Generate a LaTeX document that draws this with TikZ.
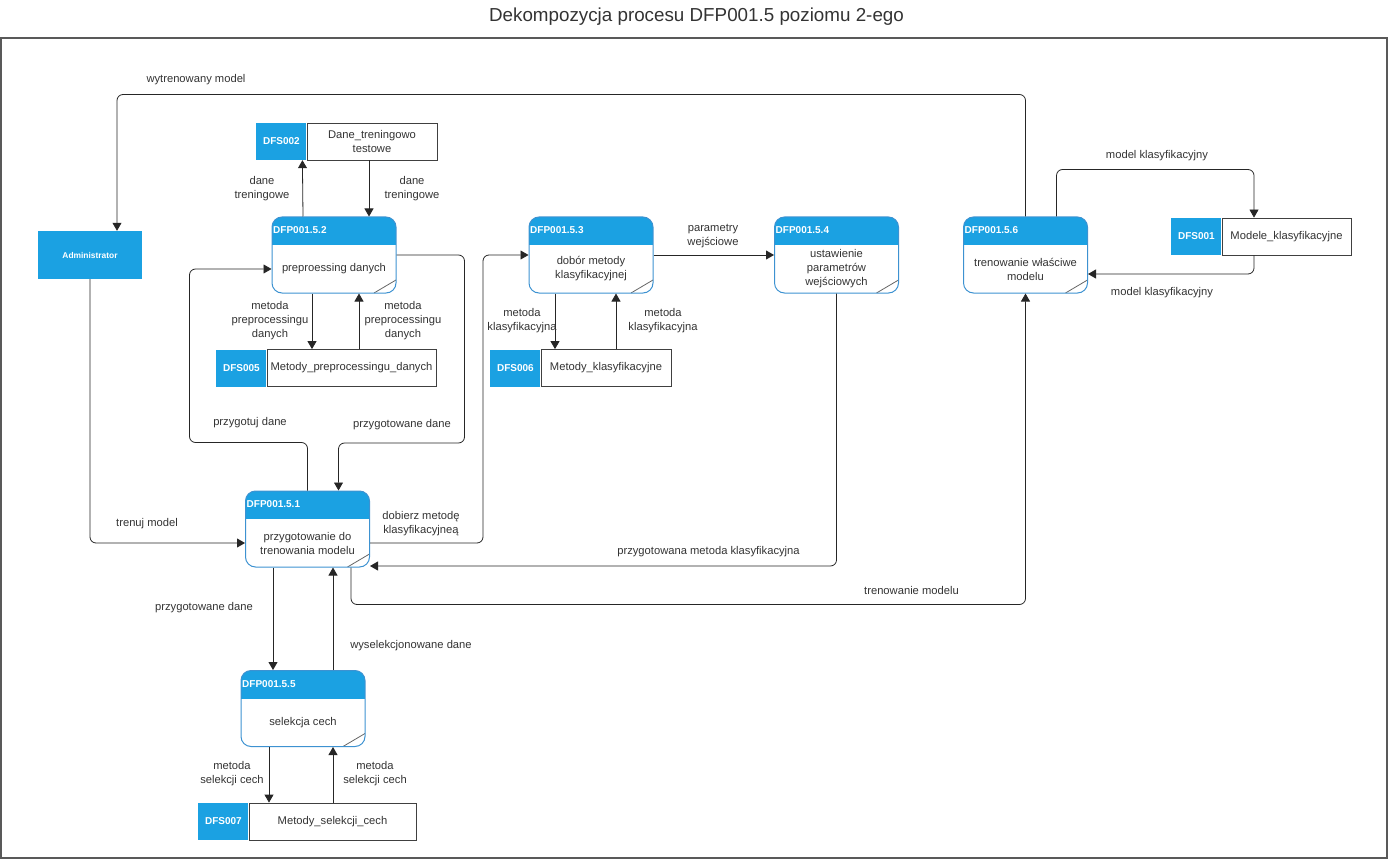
\documentclass[tikz,border=0pt]{standalone}
\usepackage{fontspec}
\setmainfont{Liberation Sans}
\usetikzlibrary{positioning,arrows.meta}

\definecolor{dfdblue}{HTML}{1BA1E2}
\definecolor{procline}{HTML}{3D92D1}
\definecolor{txtgray}{HTML}{333333}

\tikzset{
  proc/.style={draw=procline, line width=1pt, rounded corners=10pt, minimum width=124, minimum height=76, inner sep=0,
    path picture={
      \fill[dfdblue, sharp corners] (path picture bounding box.north west) rectangle ([yshift=-28]path picture bounding box.north east);
      \draw[black!60, line width=0.8pt, sharp corners] ([yshift=13]path picture bounding box.south east) -- ([xshift=-22]path picture bounding box.south east);}},
  prochdr/.style={anchor=west, text=white, font=\bfseries, inner sep=1.5},
  procbody/.style={text=txtgray, align=center, inner sep=0},
  store/.style={draw=black!75, fill=white, text=txtgray, line width=0.8pt, minimum height=37, inner sep=0, align=center},
  storeid/.style={fill=dfdblue, text=white, font=\bfseries, minimum width=50, minimum height=37, inner sep=0},
  actor/.style={fill=dfdblue, text=white, font=\bfseries\fontsize{8.4}{10}\selectfont, minimum width=104, minimum height=48},
  flow/.style={draw=black!85, line width=0.8pt, rounded corners=6pt, -{Triangle[length=8pt,width=9pt]}},
  lbl/.style={text=txtgray, align=center, inner sep=0}
}

\begin{document}
\begin{tikzpicture}[x=1pt,y=-1pt,font=\fontsize{11.2}{14}\selectfont]
\useasboundingbox (0,0) rectangle (1389,861);
\node[text=txtgray, font=\fontsize{18.8}{22}\selectfont] (title) at (696.5,17) {Dekompozycja procesu DFP001.5 poziomu 2-ego};
\draw[black!65, line width=1.2pt] (1,38) rectangle (1387,858);

\node[actor] (adm) at (90,255) {Administrator};

\node[proc] (p52) at (334,255) {};
\node[prochdr] (p52h) at ([yshift=-14]p52.north west) {DFP001.5.2};
\node[procbody] (p52b) at ([yshift=-14]p52.center) {preproessing danych};

\node[proc] (p53) at (591,255) {};
\node[prochdr] (p53h) at ([yshift=-14]p53.north west) {DFP001.5.3};
\node[procbody] (p53b) at ([yshift=-14]p53.center) {dobór metody\\klasyfikacyjnej};

\node[proc] (p54) at (836.5,255) {};
\node[prochdr] (p54h) at ([yshift=-14]p54.north west) {DFP001.5.4};
\node[procbody] (p54b) at ([yshift=-14]p54.center) {ustawienie\\parametrów\\wejściowych};

\node[proc] (p56) at (1025.5,255) {};
\node[prochdr] (p56h) at ([yshift=-14]p56.north west) {DFP001.5.6};
\node[procbody] (p56b) at ([yshift=-14]p56.center) {trenowanie właściwe\\modelu};

\node[proc] (p51) at (307.5,529) {};
\node[prochdr] (p51h) at ([yshift=-14]p51.north west) {DFP001.5.1};
\node[procbody] (p51b) at ([yshift=-14]p51.center) {przygotowanie do\\trenowania modelu};

\node[proc] (p55) at (303,708.5) {};
\node[prochdr] (p55h) at ([yshift=-14]p55.north west) {DFP001.5.5};
\node[procbody] (p55b) at ([yshift=-14]p55.center) {selekcja cech};

\node[store, minimum width=130] (s002) at (372,141.5) {Dane\_treningowo\\testowe};
\node[storeid, left=0pt of s002] (s002id) {DFS002};
\node[store, minimum width=169] (s005) at (351.5,368) {Metody\_preprocessingu\_danych};
\node[storeid, left=0pt of s005] (s005id) {DFS005};
\node[store, minimum width=130] (s006) at (606,368) {Metody\_klasyfikacyjne};
\node[storeid, left=0pt of s006] (s006id) {DFS006};
\node[store, minimum width=167] (s007) at (332.5,821.5) {Metody\_selekcji\_cech};
\node[storeid, left=0pt of s007] (s007id) {DFS007};
\node[store, minimum width=129] (s001) at (1286.5,236.5) {Modele\_klasyfikacyjne};
\node[storeid, left=0pt of s001] (s001id) {DFS001};

\draw[flow] ([xshift=-31]p52.north) -- ([xshift=21]s002id.south);
\draw[flow] ([xshift=-3]s002.south) -- ([xshift=35]p52.north);
\draw[flow] ([xshift=-22]p52.south) -- ([xshift=-39.5]s005.north);
\draw[flow] ([xshift=7.5]s005.north) -- ([xshift=25]p52.south);
\draw[flow] (p51.north) -- ++(0,-48) -- ++(-118,0) |- ([yshift=-14]p52.west);
\draw[flow] (p52.east) -- ++(68,0) -- ++(0,188) -| ([xshift=31]p51.north);
\draw[flow] ([yshift=-14]p51.east) -- ++(113,0) |- (p53.west);
\draw[flow] (p53.east) -- (p54.west);
\draw[flow] ([xshift=-36]p53.south) -- ([xshift=-51]s006.north);
\draw[flow] ([xshift=10]s006.north) -- ([xshift=25]p53.south);
\draw[flow] (p54.south) |- ([yshift=-37]p51.east);
\draw[flow] ([xshift=43.5]p51.south) -- ++(0,37) -| (p56.south);
\draw[flow] (adm.south) |- ([yshift=-14]p51.west);
\draw[flow] (p56.north) -- ++(0,-122) -| ([xshift=27]adm.north);
\draw[flow] ([xshift=31]p56.north) -- ++(0,-47) -| ([xshift=-32.5]s001.north);
\draw[flow] ([xshift=-32.5]s001.south) |- ([yshift=-19]p56.east);
\draw[flow] ([xshift=-34.5]p51.south) -- ([xshift=-30]p55.north);
\draw[flow] ([xshift=30]p55.north) -- ([xshift=25.5]p51.south);
\draw[flow] ([xshift=-34]p55.south) -- ([xshift=-63.5]s007.north);
\draw[flow] ([xshift=0.5]s007.north) -- ([xshift=30]p55.south);

\node[lbl] (l1) at (196,80) {wytrenowany model};
\node[lbl] (l2) at (262,189) {dane\\treningowe};
\node[lbl] (l3) at (412,189) {dane\\treningowe};
\node[lbl] (l4) at (270,321) {metoda\\preprocessingu\\danych};
\node[lbl] (l5) at (403,321) {metoda\\preprocessingu\\danych};
\node[lbl] (l6) at (250,423) {przygotuj dane};
\node[lbl] (l7) at (402,425) {przygotowane dane};
\node[lbl] (l8) at (147,524) {trenuj model};
\node[lbl] (l9) at (421,524) {dobierz metodę\\klasyfikacyjneą};
\node[lbl] (l10) at (713,236) {parametry\\wejściowe};
\node[lbl] (l11) at (522,321) {metoda\\klasyfikacyjna};
\node[lbl] (l12) at (663,321) {metoda\\klasyfikacyjna};
\node[lbl] (l13) at (1157,156) {model klasyfikacyjny};
\node[lbl] (l14) at (1162,293) {model klasyfikacyjny};
\node[lbl] (l15) at (708.5,552) {przygotowana metoda klasyfikacyjna};
\node[lbl] (l16) at (911.5,590) {trenowanie modelu};
\node[lbl] (l17) at (204,608) {przygotowane dane};
\node[lbl] (l18) at (411,646) {wyselekcjonowane dane};
\node[lbl] (l19) at (232,774) {metoda\\selekcji cech};
\node[lbl] (l20) at (375,774) {metoda\\selekcji cech};
\end{tikzpicture}
\end{document}
